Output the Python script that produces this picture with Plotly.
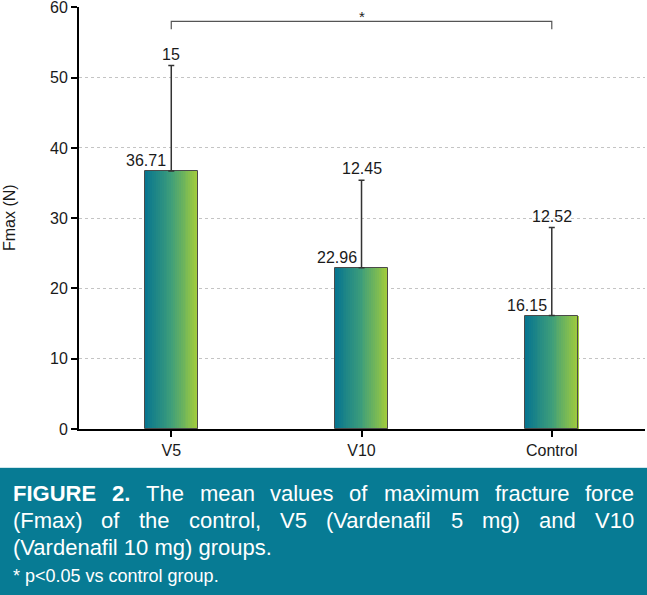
import plotly.graph_objects as go

# ---------------- data ----------------
categories = ["V5", "V10", "Control"]
means = [36.71, 22.96, 16.15]
sds = [15, 12.45, 12.52]
mean_labels = ["36.71", "22.96", "16.15"]
sd_labels = ["15", "12.45", "12.52"]
y_ticks = [0, 10, 20, 30, 40, 50, 60]
sig_pair = ["V5", "Control"]
sig_mark = "*"
y_title = "Fmax (N)"

caption_line1 = [("FIGURE", True), ("2.", True), ("The", False), ("mean", False), ("values", False),
                 ("of", False), ("maximum", False), ("fracture", False), ("force", False)]
caption_line2 = ["(Fmax)", "of", "the", "control,", "V5", "(Vardenafil", "5", "mg)", "and", "V10"]
caption_line3 = "(Vardenafil 10 mg) groups."
caption_note = "* p<0.05 vs control group."

# ---------------- layout geometry (pixels) ----------------
W, H = 647, 595
L, R, T, B = 79, 645, 7, 429
PW, PH = R - L, B - T


def px2x(px):
    return (px - L) / PW


def py2y(py):
    return (B - py) / PH


FONT = "Liberation Sans, Arial, Helvetica, sans-serif"

# Arial / Liberation Sans advance widths (per 1000 em) for the caption glyphs
REG = {" ": 278, "(": 333, ")": 333, ",": 278, ".": 278, "<": 584, "*": 389,
       "F": 611, "V": 667, "T": 611,
       "a": 556, "c": 500, "d": 556, "e": 556, "f": 278, "g": 556, "h": 556, "i": 222,
       "l": 222, "m": 833, "n": 556, "o": 556, "p": 556, "r": 333, "s": 500, "t": 278,
       "u": 556, "v": 500, "x": 500}
for dgt in "0123456789":
    REG[dgt] = 556
BOLD = {"F": 611, "I": 278, "G": 778, "U": 722, "R": 722, "E": 667, "2": 556, ".": 278, " ": 278}


def text_w(s, size, bold=False):
    tab = BOLD if bold else REG
    return sum(tab.get(ch, 556) for ch in s) * size / 1000.0


bar_w = 0.28
n_strips = 28
c0 = (6, 116, 144)
c1 = (62, 158, 122)
c2 = (166, 206, 57)


def grad(t):
    if t < 0.5:
        a, b, u = c0, c1, t / 0.5
    else:
        a, b, u = c1, c2, (t - 0.5) / 0.5
    return "rgb(%d,%d,%d)" % tuple(round(a[k] + (b[k] - a[k]) * u) for k in range(3))


fig = go.Figure()

sw = bar_w / n_strips
for i in range(n_strips):
    fig.add_trace(go.Bar(
        x=categories, y=means,
        width=[sw * 1.08] * 3, offset=-bar_w / 2 + i * sw,
        marker=dict(color=grad((i + 0.5) / n_strips), line=dict(width=0)),
        hoverinfo="skip", showlegend=False,
    ))

# outline + error bars
fig.add_trace(go.Bar(
    x=categories, y=means, width=[bar_w] * 3, offset=-bar_w / 2,
    marker=dict(color="rgba(0,0,0,0)", line=dict(color="#4a4a4a", width=1)),
    error_y=dict(type="data", array=sds, arrayminus=[0] * 3, symmetric=False,
                 color="#333333", thickness=1.5, width=3),
    showlegend=False, hoverinfo="skip",
))

# significance bracket
bracket_hi, bracket_lo = 58.0, 56.9
fig.add_trace(go.Scatter(
    x=[sig_pair[0], sig_pair[0], sig_pair[1], sig_pair[1]],
    y=[bracket_lo, bracket_hi, bracket_hi, bracket_lo],
    mode="lines", line=dict(color="#555555", width=1.2),
    showlegend=False, hoverinfo="skip",
))

annotations = []
annotations.append(dict(x="V10", y=bracket_hi, xref="x", yref="y", text=sig_mark,
                        showarrow=False, yanchor="bottom", yshift=-6,
                        font=dict(family=FONT, size=15, color="#222")))

for c, m, s, ml, sl in zip(categories, means, sds, mean_labels, sd_labels):
    annotations.append(dict(x=c, y=m, xref="x", yref="y", text=ml, showarrow=False,
                            xanchor="right", yanchor="bottom", xshift=-3, yshift=0,
                            font=dict(family=FONT, size=16, color="#1a1a1a")))
    annotations.append(dict(x=c, y=m + s, xref="x", yref="y", text=sl, showarrow=False,
                            xanchor="center", yanchor="bottom", yshift=1,
                            font=dict(family=FONT, size=16, color="#1a1a1a")))

# y axis title
annotations.append(dict(x=px2x(9), y=py2y(218), xref="paper", yref="paper", text=y_title,
                        showarrow=False, textangle=-90, xanchor="center", yanchor="middle",
                        font=dict(family=FONT, size=16, color="#1a1a1a")))

# caption (justified lines 1 and 2)
CAP_SIZE = 22
CAP_L, CAP_R = 13, 634


def justified(words, cy):
    widths = [text_w(w, CAP_SIZE, b) for w, b in words]
    gap = (CAP_R - CAP_L - sum(widths)) / (len(words) - 1)
    x = CAP_L
    for (w, b), wd in zip(words, widths):
        annotations.append(dict(x=px2x(x + wd / 2), y=py2y(cy), xref="paper", yref="paper",
                                text=("<b>%s</b>" % w) if b else w, showarrow=False,
                                xanchor="center", yanchor="middle",
                                font=dict(family=FONT, size=CAP_SIZE, color="white")))
        x += wd + gap


justified(caption_line1, 493)
justified([(w, False) for w in caption_line2], 520)
annotations.append(dict(x=px2x(CAP_L - 2), y=py2y(547), xref="paper", yref="paper",
                        text=caption_line3, showarrow=False, xanchor="left", yanchor="middle",
                        font=dict(family=FONT, size=CAP_SIZE, color="white")))
annotations.append(dict(x=px2x(CAP_L - 2), y=py2y(576), xref="paper", yref="paper",
                        text=caption_note, showarrow=False, xanchor="left", yanchor="middle",
                        font=dict(family=FONT, size=18, color="white")))

shapes = [
    dict(type="rect", xref="paper", yref="paper", x0=px2x(0), x1=px2x(W),
         y0=py2y(H + 2), y1=py2y(468), fillcolor="#077b94", line=dict(width=0), layer="below"),
    dict(type="line", xref="paper", yref="paper", x0=px2x(0), x1=px2x(W),
         y0=py2y(467.5), y1=py2y(467.5), line=dict(color="#cfe6ec", width=1)),
]

fig.update_layout(
    width=W, height=H,
    margin=dict(l=L, r=W - R, t=T, b=H - B, autoexpand=False),
    paper_bgcolor="white", plot_bgcolor="white",
    barmode="overlay", bargap=0,
    annotations=annotations, shapes=shapes,
    font=dict(family=FONT, size=16, color="#1a1a1a"),
)
fig.update_xaxes(
    type="category", range=[-0.485, 2.49],
    showline=True, linecolor="black", linewidth=1.5,
    ticks="outside", ticklen=6, tickwidth=2, tickcolor="black",
    tickfont=dict(family=FONT, size=16, color="#1a1a1a"),
    showgrid=False, zeroline=False, fixedrange=True,
)
fig.update_yaxes(
    range=[0, 60.05], tickvals=y_ticks,
    showline=True, linecolor="black", linewidth=2,
    ticks="outside", ticklen=6, tickwidth=2, tickcolor="black",
    tickfont=dict(family=FONT, size=16, color="#1a1a1a"),
    ticklabeloverflow="allow",
    showgrid=True, gridcolor="#c4c4c4", gridwidth=1, griddash="dot",
    zeroline=False, fixedrange=True,
)

fig.write_html("out.html", config={"displayModeBar": False},
               post_script="document.body.style.margin='0';")
